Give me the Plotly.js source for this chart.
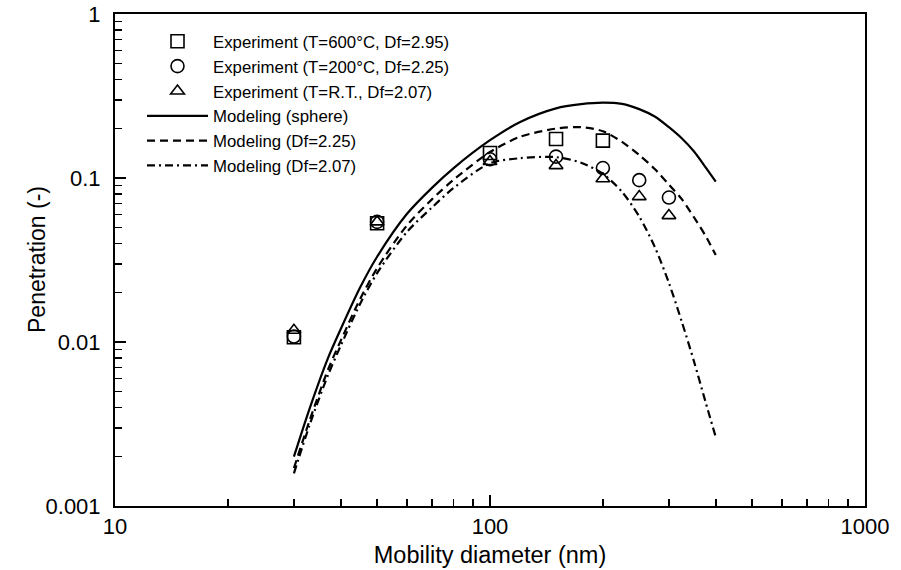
<!DOCTYPE html>
<html>
<head>
<meta charset="utf-8">
<script src="https://cdn.plot.ly/plotly-3.0.1.min.js"></script>
<style>html,body{margin:0;padding:0;background:#fff;}#chart{width:901px;height:570px;}</style>
</head>
<body>
<div id="chart"></div>
<script>
// Experimental data (mobility diameter in nm, penetration)
const expX600 = [30, 50, 100, 150, 200];
const expY600 = [0.0107, 0.053, 0.142, 0.173, 0.169];
const expX200 = [30, 50, 100, 150, 200, 250, 300];
const expY200 = [0.0108, 0.054, 0.130, 0.135, 0.115, 0.097, 0.076];
const expXRT = [30, 50, 100, 150, 200, 250, 300];
const expYRT = [0.0118, 0.054, 0.126, 0.119, 0.099, 0.077, 0.059];

// Modeling curves
const modX = [30, 33, 37, 40, 45, 50, 60, 70, 80, 100, 120, 150, 175, 200, 225, 250, 275, 300, 325, 350, 375, 400];
const modSphere = [0.0020, 0.0039, 0.0080, 0.0120, 0.0214, 0.0331, 0.0603, 0.0871, 0.115, 0.170, 0.219, 0.266, 0.282, 0.288, 0.283, 0.263, 0.237, 0.204, 0.174, 0.145, 0.117, 0.095];
const modDf225 = [0.0017, 0.0033, 0.0068, 0.0102, 0.0182, 0.0282, 0.0513, 0.0741, 0.0977, 0.144, 0.178, 0.200, 0.204, 0.193, 0.166, 0.138, 0.1135, 0.0912, 0.0741, 0.0575, 0.0447, 0.0339];
const modDf207 = [0.00158, 0.0031, 0.0063, 0.0095, 0.0170, 0.0263, 0.0468, 0.0661, 0.087, 0.123, 0.132, 0.134, 0.124, 0.106, 0.0822, 0.0582, 0.038, 0.0229, 0.0132, 0.0076, 0.00437, 0.00263];

const xTickVals = [10, 100, 1000];
const xTickText = ['10', '100', '1000'];
const yTickVals = [0.001, 0.01, 0.1, 1];
const yTickText = ['0.001', '0.01', '0.1', '1'];
const minorDigits = [2, 3, 4, 5, 6, 7, 8, 9];

function minorTicks(decades) {
  const out = [];
  decades.forEach(d => minorDigits.forEach(k => out.push(k * d)));
  return out;
}

const FONT = 'Liberation Sans, Arial, Helvetica, sans-serif';
const mk = (sym, size) => ({symbol: sym, size: size, color: '#000', line: {color: '#000', width: 1.6}});

const traces = [
  {x: expX600, y: expY600, mode: 'markers', type: 'scatter', name: 'Experiment (T=600°C, Df=2.95)', marker: mk('square-open', 13)},
  {x: expX200, y: expY200, mode: 'markers', type: 'scatter', name: 'Experiment (T=200°C, Df=2.25)', marker: mk('circle-open', 13)},
  {x: expXRT, y: expYRT, mode: 'markers', type: 'scatter', name: 'Experiment (T=R.T., Df=2.07)', marker: mk('triangle-up-open', 12)},
  {x: modX, y: modSphere, mode: 'lines', type: 'scatter', name: 'Modeling (sphere)', line: {color: '#000', width: 2.2, shape: 'spline', smoothing: 0.8}},
  {x: modX, y: modDf225, mode: 'lines', type: 'scatter', name: 'Modeling (Df=2.25)', line: {color: '#000', width: 2.2, dash: '8px,5px', shape: 'spline', smoothing: 0.8}},
  {x: modX, y: modDf207, mode: 'lines', type: 'scatter', name: 'Modeling (Df=2.07)', line: {color: '#000', width: 2.2, dash: '8px,4px,2px,4px', shape: 'spline', smoothing: 0.8}}
];

const axisCommon = {
  type: 'log', showgrid: false, zeroline: false,
  showline: true, linecolor: '#000', linewidth: 2, mirror: true,
  ticks: 'inside', ticklen: 11, tickwidth: 1.6, tickcolor: '#000',
  tickmode: 'array',
  tickfont: {family: FONT, size: 22, color: '#000'}
};
const minorCommon = {ticks: 'inside', ticklen: 7, tickwidth: 1.5, tickcolor: '#000', showgrid: false, tickmode: 'array'};

const layout = {
  width: 901, height: 570,
  margin: {l: 115, r: 36, t: 14, b: 64},
  paper_bgcolor: '#fff', plot_bgcolor: '#fff',
  font: {family: FONT, color: '#000'},
  showlegend: true,
  legend: {
    x: 0.036, y: 0.98, xanchor: 'left', yanchor: 'top',
    bgcolor: 'rgba(0,0,0,0)', borderwidth: 0,
    font: {family: FONT, size: 16.8, color: '#000'},
    itemwidth: 61
  },
  xaxis: Object.assign({}, axisCommon, {
    range: [1, 3], tickvals: xTickVals, ticktext: xTickText,
    minor: Object.assign({}, minorCommon, {tickvals: minorTicks([10, 100])}),
    title: {text: 'Mobility diameter (nm)', font: {family: FONT, size: 23.5, color: '#000'}, standoff: 8}
  }),
  yaxis: Object.assign({}, axisCommon, {
    range: [-3, 0], tickvals: yTickVals, ticktext: yTickText, ticklabelstandoff: 8,
    minor: Object.assign({}, minorCommon, {tickvals: minorTicks([0.001, 0.01, 0.1])}),
    title: {text: ''}
  }),
  annotations: [{
    text: 'Penetration (-)', xref: 'paper', yref: 'paper',
    x: -0.104, y: 0.5, xanchor: 'center', yanchor: 'middle',
    textangle: -90, showarrow: false,
    font: {family: FONT, size: 23, color: '#000'}
  }]
};

Plotly.newPlot('chart', traces, layout, {displayModeBar: false, staticPlot: true});
</script>
</body>
</html>
